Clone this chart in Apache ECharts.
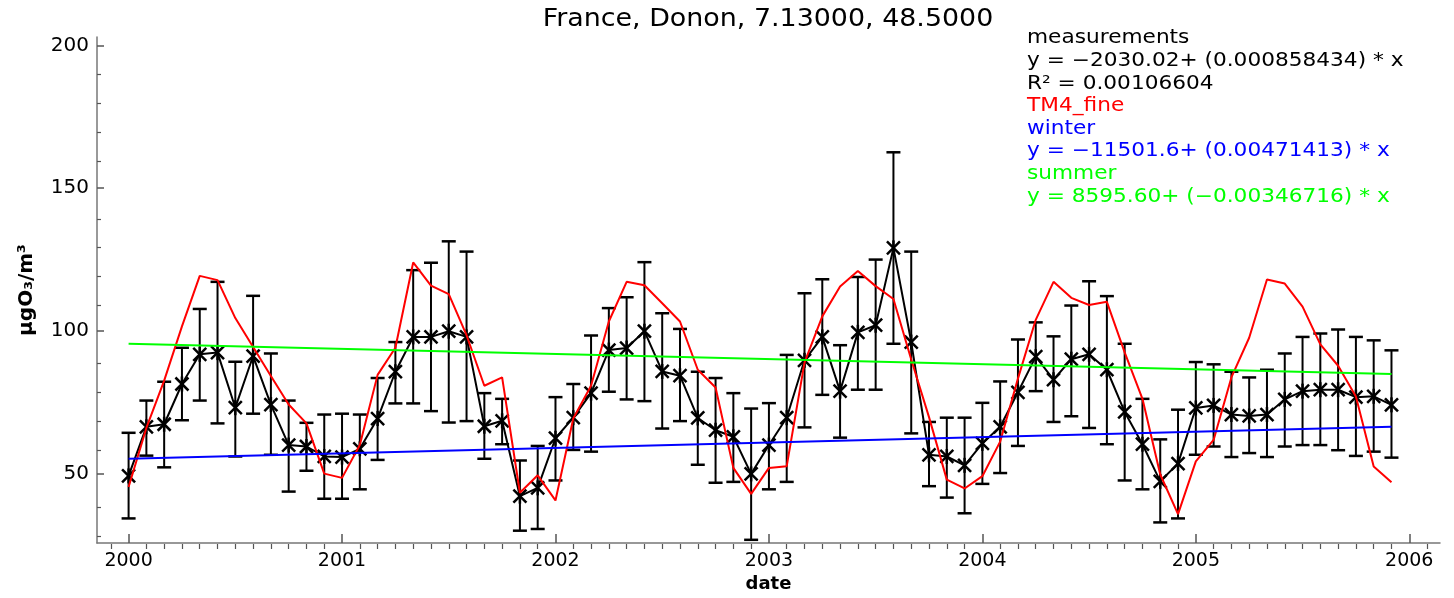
<!DOCTYPE html>
<html>
<head>
<meta charset="utf-8">
<title>France, Donon, 7.13000, 48.5000</title>
<script src="https://cdn.jsdelivr.net/npm/echarts@6/dist/echarts.min.js"></script>
<style>
  html, body { margin: 0; padding: 0; background: #fff; }
  #chart { width: 1454px; height: 598px; }
</style>
</head>
<body>
<div id="chart"></div>
<script>
// Monthly ozone at Donon (France), 2000-2005: measurements with spread, TM4_fine model,
// and the winter / summer linear trends.
const years = [2000, 2001, 2002, 2003, 2004, 2005];

const measMean = [
  49.2, 66.4, 67.3, 81.4, 91.8, 92.4, 73.1, 91.2, 74.2, 60.0, 59.5, 56.0,
  55.8, 58.7, 69.3, 85.7, 97.9, 97.9, 99.9, 97.9, 66.6, 68.5, 42.1, 45.0,
  62.4, 69.6, 78.2, 93.3, 94.0, 99.9, 85.8, 84.3, 69.5, 65.2, 62.9, 49.9,
  60.0, 69.6, 89.7, 97.9, 78.9, 99.5, 102.0, 129.1, 96.1, 56.6, 56.0, 52.9,
  60.6, 66.4, 78.5, 91.0, 82.9, 90.1, 91.8, 86.4, 71.6, 60.3, 47.3, 53.5,
  73.0, 73.9, 70.7, 70.2, 70.7, 76.0, 78.9, 79.4, 79.4, 76.8, 77.1, 74.1
];
const measHigh = [
  64.3, 75.6, 82.2, 94.1, 107.7, 117.2, 89.2, 112.3, 92.1, 75.6, 67.8, 70.7,
  71.0, 70.7, 83.5, 96.1, 121.3, 123.9, 131.4, 127.8, 78.2, 76.2, 54.6, 59.7,
  76.8, 81.4, 98.4, 108.0, 111.8, 124.1, 106.2, 100.7, 85.7, 83.5, 78.2, 72.8,
  74.7, 91.6, 113.2, 118.1, 95.0, 118.9, 125.0, 162.6, 127.8, 68.1, 69.6, 69.6,
  74.8, 82.3, 97.0, 103.0, 98.1, 108.9, 117.4, 112.2, 95.5, 76.2, 62.0, 72.4,
  89.1, 88.3, 85.7, 83.7, 86.4, 92.1, 97.9, 99.1, 100.5, 97.9, 96.7, 93.2
];
const measLow = [
  34.3, 56.3, 52.2, 68.7, 75.6, 67.6, 56.0, 71.0, 56.6, 43.7, 51.0, 41.2,
  41.2, 44.5, 54.8, 74.6, 74.6, 71.9, 67.9, 68.4, 55.2, 60.3, 30.0, 30.6,
  47.6, 58.3, 57.7, 78.7, 76.0, 75.4, 65.8, 68.4, 53.1, 46.8, 47.1, 26.8,
  44.5, 47.1, 66.2, 77.6, 62.6, 79.4, 79.4, 95.5, 64.1, 45.6, 41.6, 36.1,
  46.4, 50.2, 59.7, 78.9, 68.1, 70.1, 66.0, 60.3, 47.6, 44.5, 32.9, 34.3,
  56.6, 59.5, 55.8, 57.2, 55.8, 59.5, 60.0, 60.0, 58.2, 56.2, 57.7, 55.6
];
const tm4Fine = [
  45.3, 66.0, 82.6, 101.6, 119.3, 117.8, 104.5, 94.4, 84.2, 74.2, 67.6, 50.0,
  48.5, 60.0, 84.6, 94.1, 124.0, 115.9, 112.9, 98.5, 80.8, 83.7, 43.3, 49.4,
  40.6, 69.3, 80.8, 103.3, 117.2, 116.0, 109.7, 103.3, 86.4, 80.2, 52.0, 42.9,
  52.0, 52.6, 88.9, 105.1, 115.6, 121.0, 115.7, 111.2, 90.0, 69.8, 47.9, 44.8,
  49.1, 61.2, 83.3, 103.9, 117.2, 111.6, 109.1, 110.2, 92.5, 76.2, 49.7, 35.8,
  54.3, 61.8, 83.7, 97.6, 118.0, 116.6, 108.5, 95.3, 87.8, 77.0, 52.5, 47.0
];
// trend lines: values at the first and last month
const winterTrend = [55.2, 66.4];
const summerTrend = [95.5, 84.9];

const xTickYears = [2000, 2001, 2002, 2003, 2004, 2005, 2006];
const yTickLabels = [50, 100, 150, 200];
const yMinorTicks = [30, 40, 60, 70, 80, 90, 110, 120, 130, 140, 160, 170, 180, 190];

const legendLines = [
  { text: 'measurements', color: '#000000' },
  { text: 'y = \u22122030.02+ (0.000858434) * x', color: '#000000' },
  { text: 'R\u00b2 = 0.00106604', color: '#000000' },
  { text: 'TM4_fine', color: '#ff0000' },
  { text: 'winter', color: '#0000ff' },
  { text: 'y = \u221211501.6+ (0.00471413) * x', color: '#0000ff' },
  { text: 'summer', color: '#00ff00' },
  { text: 'y = 8595.60+ (\u22120.00346716) * x', color: '#00ff00' }
];

// decimal-year position of each month
const monthX = [];
years.forEach(function (y) { for (let m = 0; m < 12; m++) monthX.push(y + m / 12); });
// monthly minor ticks along the time axis (year ticks are drawn by the main axis)
const monthTicks = [];
for (let k = -1; k <= 73; k++) { if (k % 12 !== 0) monthTicks.push(+(2000 + k / 12).toFixed(5)); }

const X_MIN = 1999.852, X_MAX = 2006.144;
const Y_MIN = 25.65, Y_MAX = 203.0;
const FONT = 'DejaVu Sans';
const TICK_COLOR = '#555';
const GRID = { left: 97, right: 14, top: 37, bottom: 49, containLabel: false };

const measData = monthX.map(function (x, i) { return [x, measMean[i], measHigh[i], measLow[i]]; });
const lineData = monthX.map(function (x, i) { return [x, measMean[i]]; });
const tm4Data = monthX.map(function (x, i) { return [x, tm4Fine[i]]; });
const xEnds = [monthX[0], monthX[monthX.length - 1]];

function renderBar(params, api) {
  const x = api.value(0);
  const pm = api.coord([x, api.value(1)]);
  const ph = api.coord([x, api.value(2)]);
  const pl = api.coord([x, api.value(3)]);
  const cap = 7, s = 7.5, d = 6.5;
  const seg = function (x1, y1, x2, y2, w) {
    return { type: 'line', shape: { x1: x1, y1: y1, x2: x2, y2: y2 },
             style: { stroke: '#000', lineWidth: w || 2, fill: null } };
  };
  return {
    type: 'group',
    children: [
      seg(ph[0], ph[1], pl[0], pl[1]),
      seg(ph[0] - cap, ph[1], ph[0] + cap, ph[1], 2.5),
      seg(pl[0] - cap, pl[1], pl[0] + cap, pl[1], 2.5),
      // asterisk marker
      seg(pm[0], pm[1] - s, pm[0], pm[1] + s, 2.5),
      seg(pm[0] - d, pm[1] - d, pm[0] + d, pm[1] + d, 2.5),
      seg(pm[0] - d, pm[1] + d, pm[0] + d, pm[1] - d, 2.5)
    ]
  };
}

const chart = echarts.init(document.getElementById('chart'), null, { renderer: 'canvas' });

const graphics = [{
  type: 'text', x: 768, y: 20, scaleX: 1.12,
  style: { text: 'France, Donon, 7.13000, 48.5000', fill: '#000', fontSize: 24, fontFamily: FONT,
           textAlign: 'center', textVerticalAlign: 'middle' }
}];
legendLines.forEach(function (l, i) {
  graphics.push({
    type: 'text', x: 1027, y: 38.5 + i * 22.6, scaleX: 1.14,
    style: { text: l.text, fill: l.color, fontSize: 19, fontFamily: FONT,
             textAlign: 'left', textVerticalAlign: 'middle' }
  });
});

const plainNum = function (v) { return String(v); };

chart.setOption({
  animation: false,
  backgroundColor: '#fff',
  // second grid shares the same box and only carries the minor ticks
  grid: [Object.assign({}, GRID), Object.assign({}, GRID)],
  graphic: graphics,
  xAxis: [{
    gridIndex: 0, type: 'value', min: X_MIN, max: X_MAX, position: 'bottom',
    name: 'date', nameLocation: 'middle', nameGap: 31,
    nameTextStyle: { fontFamily: FONT, fontSize: 18, fontWeight: 'bold', color: '#000' },
    axisLine: { show: true, lineStyle: { color: '#777', width: 1.5 } },
    axisTick: { show: true, inside: true, length: 9, customValues: xTickYears, lineStyle: { color: TICK_COLOR, width: 1.5 } },
    axisLabel: { customValues: xTickYears, formatter: plainNum, fontFamily: FONT, fontSize: 19, color: '#000', margin: 8 },
    splitLine: { show: false }
  }, {
    gridIndex: 1, type: 'value', min: X_MIN, max: X_MAX, position: 'bottom',
    axisLine: { show: false },
    axisTick: { show: true, inside: true, length: 5, customValues: monthTicks, lineStyle: { color: TICK_COLOR, width: 1.2 } },
    axisLabel: { show: false },
    splitLine: { show: false }
  }],
  yAxis: [{
    gridIndex: 0, type: 'value', min: Y_MIN, max: Y_MAX, position: 'left',
    name: '\u03bcgO\u2083/m\u00b3', nameLocation: 'middle', nameGap: 60, nameRotate: 90,
    nameTextStyle: { fontFamily: FONT, fontSize: 20, fontWeight: 'bold', color: '#000' },
    axisLine: { show: true, lineStyle: { color: '#777', width: 1.5 } },
    axisTick: { show: true, inside: true, length: 7, customValues: yTickLabels, lineStyle: { color: TICK_COLOR, width: 1.5 } },
    axisLabel: { customValues: yTickLabels, formatter: plainNum, fontFamily: FONT, fontSize: 20, color: '#000', margin: 8 },
    splitLine: { show: false }
  }, {
    gridIndex: 1, type: 'value', min: Y_MIN, max: Y_MAX, position: 'left',
    axisLine: { show: false },
    axisTick: { show: true, inside: true, length: 4, customValues: yMinorTicks, lineStyle: { color: TICK_COLOR, width: 1.2 } },
    axisLabel: { show: false },
    splitLine: { show: false }
  }],
  series: [{
    name: 'measurements', type: 'line', data: lineData, symbol: 'none', z: 2,
    lineStyle: { color: '#000', width: 2 }
  }, {
    name: 'spread', type: 'custom', data: measData, renderItem: renderBar, z: 3,
    encode: { x: 0, y: [1, 2, 3] }
  }, {
    name: 'TM4_fine', type: 'line', data: tm4Data, symbol: 'none', z: 4,
    lineStyle: { color: '#ff0000', width: 2 }
  }, {
    name: 'winter', type: 'line', symbol: 'none', z: 5,
    data: [[xEnds[0], winterTrend[0]], [xEnds[1], winterTrend[1]]],
    lineStyle: { color: '#0000ff', width: 2 }
  }, {
    name: 'summer', type: 'line', symbol: 'none', z: 5,
    data: [[xEnds[0], summerTrend[0]], [xEnds[1], summerTrend[1]]],
    lineStyle: { color: '#00ff00', width: 2 }
  }]
});
</script>
</body>
</html>
